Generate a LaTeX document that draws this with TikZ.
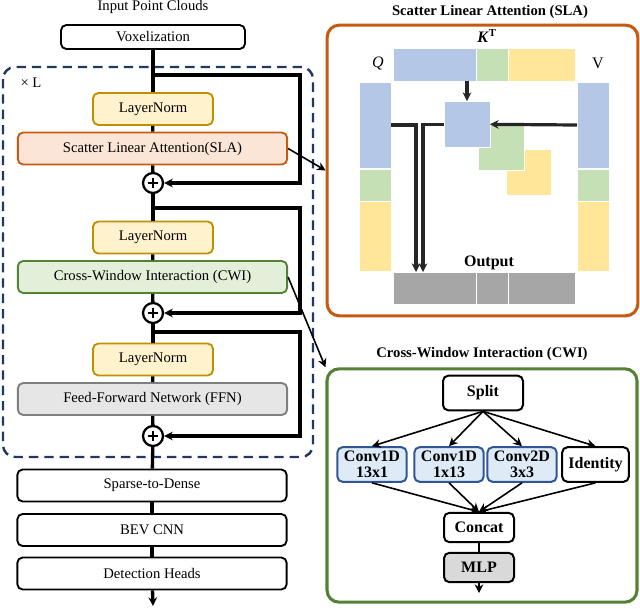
\documentclass[tikz,border=0pt]{standalone}
\usepackage{fontspec}
\setmainfont{Liberation Serif}
\usetikzlibrary{arrows.meta}

\definecolor{lnfill}{HTML}{FFF2CC}
\definecolor{lnedge}{HTML}{BF9000}
\definecolor{slafill}{HTML}{FBE5D6}
\definecolor{slaedge}{HTML}{C55A11}
\definecolor{cwifill}{HTML}{E2F0D9}
\definecolor{cwiedge}{HTML}{548235}
\definecolor{ffnfill}{HTML}{E7E6E6}
\definecolor{ffnedge}{HTML}{7F7F7F}
\definecolor{loopedge}{HTML}{203864}
\definecolor{tblue}{HTML}{B4C7E7}
\definecolor{tgreen}{HTML}{C5E0B4}
\definecolor{tyellow}{HTML}{FFE699}
\definecolor{tgray}{HTML}{A6A6A6}
\definecolor{convfill}{HTML}{DEEBF7}
\definecolor{convedge}{HTML}{2F5597}
\definecolor{mlpfill}{HTML}{D9D9D9}
\definecolor{darkline}{HTML}{262626}

\begin{document}
\begin{tikzpicture}[
    x=0.75pt, y=-0.75pt,
    font=\fontsize{11}{13}\selectfont,
    block/.style={draw, rounded corners=4pt, line width=1.4pt, minimum height=24pt, inner sep=1pt},
    lnorm/.style={block, draw=lnedge, fill=lnfill, minimum width=90pt},
    wide/.style={block, minimum width=202pt},
    adder/.style={circle, draw, line width=1.7pt, minimum size=15pt, inner sep=0pt,
        path picture={
            \draw[line width=1.7pt] ([yshift=-3.5pt]path picture bounding box.north) -- ([yshift=3.5pt]path picture bounding box.south);
            \draw[line width=1.7pt] ([xshift=3.5pt]path picture bounding box.west) -- ([xshift=-3.5pt]path picture bounding box.east);
        }},
    flow/.style={line width=2.5pt},
    panel/.style={draw, rounded corners=9pt, line width=2.3pt},
    tile/.style={draw=white, line width=0.6pt, inner sep=0pt, outer sep=0pt, anchor=north west},
    cwibox/.style={draw, rounded corners=4pt, line width=1.5pt, inner sep=1pt, minimum height=26pt,
        font=\fontsize{12}{12}\selectfont\bfseries, align=center},
    conv/.style={cwibox, draw=convedge, fill=convfill, minimum width=52pt},
    link/.style={line width=1.2pt},
    thickarrow/.style={darkline, line width=2.4pt},
    >={Stealth[length=6.5pt, width=6.5pt]}
]
\useasboundingbox (0,0) rectangle (640,608);

% Main column
\node (input) at (153,7) {Input Point Clouds};
\node[block, minimum width=138pt, minimum height=18pt] (vox) at (153,37) {Voxelization};
\node[lnorm] (ln1) at (153,109) {LayerNorm};
\node[wide, draw=slaedge, fill=slafill] (sla) at (152.5,148.5) {Scatter Linear Attention(SLA)};
\node[adder] (add1) at (153,183) {};
\node[lnorm] (ln2) at (153,237.5) {LayerNorm};
\node[wide, draw=cwiedge, fill=cwifill] (cwi) at (152.5,277) {Cross-Window Interaction (CWI)};
\node[adder] (add2) at (153,313) {};
\node[lnorm] (ln3) at (153,359.5) {LayerNorm};
\node[wide, draw=ffnedge, fill=ffnfill] (ffn) at (152.5,399) {Feed-Forward Network (FFN)};
\node[adder] (add3) at (153,436) {};
\node[wide] (s2d) at (152,485.5) {Sparse-to-Dense};
\node[wide] (bev) at (152,530) {BEV CNN};
\node[wide] (det) at (152,573.5) {Detection Heads};
\coordinate (out) at (153,606);

% Repeated block
\draw[loopedge, line width=1.8pt, dash pattern=on 7pt off 4.5pt, rounded corners=9pt] (3,67) rectangle (313,457);
\node (times) at (31,83) {× L};

% Connections
\foreach \a/\b in {vox/ln1, ln1/sla, sla/add1, add1/ln2, ln2/cwi, cwi/add2,
                   add2/ln3, ln3/ffn, ffn/add3, add3/s2d, s2d/bev, bev/det} {
    \draw[flow] (\a) -- (\b);
}
\draw[flow,->] (det) -- (out);

% Residual connections
\coordinate (br1) at (153,75);
\coordinate (br2) at (153,208);
\coordinate (br3) at (153,332);
\draw[flow,->] (br1) -- ++(147,0) |- (add1.east);
\draw[flow,->] (br2) -- ++(147,0) |- (add2.east);
\draw[flow,->] (br3) -- ++(147,0) |- (add3.east);

% Scatter Linear Attention panel
\node[font=\fontsize{11}{13}\selectfont\bfseries] (slatitle) at (490,12) {Scatter Linear Attention (SLA)};
\node[panel, draw=slaedge, minimum width=233pt, minimum height=218pt] (slapanel) at (482.5,170.5) {};
\draw[link,->] (sla.east) -- (slapanel.west);

% K^T row
\node[tile, fill=tblue, minimum width=62.25pt, minimum height=24.75pt] (kb) at (393,48) {};
\node[tile, fill=tgreen, minimum width=24pt, minimum height=24.75pt] (kg) at (476,48) {};
\node[tile, fill=tyellow, minimum width=50.25pt, minimum height=24.75pt] (ky) at (508,48) {};
% Q and V columns
\foreach \c/\x in {q/359, v/577} {
    \node[tile, fill=tblue, minimum width=24pt, minimum height=64.5pt] (\c b) at (\x,82) {};
    \node[tile, fill=tgreen, minimum width=24pt, minimum height=24pt] (\c g) at (\x,169) {};
    \node[tile, fill=tyellow, minimum width=24pt, minimum height=52.5pt] (\c y) at (\x,201) {};
}
% Stacked products
\node[tile, fill=tyellow, minimum width=34pt, minimum height=35pt] (sy) at (506,149) {};
\node[tile, fill=tgreen, minimum width=34.5pt, minimum height=36pt] (sg) at (478,122) {};
\node[tile, fill=tblue, minimum width=34.5pt, minimum height=35pt] (sb) at (444,101) {};
% Output row
\node[tile, fill=tgray, minimum width=62.25pt, minimum height=24pt] (ob) at (393,272) {};
\node[tile, fill=tgray, minimum width=24pt, minimum height=24pt] (og) at (476,272) {};
\node[tile, fill=tgray, minimum width=50.25pt, minimum height=24pt] (oy) at (508,272) {};

\node[font=\fontsize{12}{13}\selectfont\bfseries] (klabel) at (487,36) {\textit{K}\textsuperscript{T}};
\node[font=\fontsize{12}{13}\selectfont] (qlabel) at (378,63) {\textit{Q}};
\node[font=\fontsize{12}{13}\selectfont] (vlabel) at (598,63) {V};
\node[font=\fontsize{12}{13}\selectfont\bfseries] (outlabel) at (489,263) {Output};

\coordinate (qdrop) at (416,272);
\coordinate (sdrop) at (423,272);
\draw[thickarrow, ->] (sb.north |- kb.south) -- (sb.north);
\draw[thickarrow, ->] (vb.west) -- (sb.east);
\draw[thickarrow, ->] (qb.east) -| (qdrop);
\draw[thickarrow, ->] (sb.west) -| (sdrop);

% Cross-Window Interaction panel
\node[font=\fontsize{11}{13}\selectfont\bfseries] (cwititle) at (482,354) {Cross-Window Interaction (CWI)};
\node[panel, draw=cwiedge, minimum width=232.5pt, minimum height=175pt] (cwipanel) at (482,485.5) {};
\draw[link,->] (cwi.east) -- (cwipanel.north west);

\node[cwibox, minimum width=60pt] (split) at (483,393) {Split};
\node[conv] (c1) at (372,464.5) {Conv1D\\13x1};
\node[conv] (c2) at (449,464.5) {Conv1D\\1x13};
\node[conv] (c3) at (522,464.5) {Conv2D\\3x3};
\node[cwibox, minimum width=50pt] (ident) at (595.5,464.5) {Identity};
\node[cwibox, minimum width=52.5pt, minimum height=22pt] (concat) at (479,527.5) {Concat};
\node[cwibox, fill=mlpfill, minimum width=52.5pt, minimum height=22pt] (mlp) at (479,567.5) {MLP};
\coordinate (cwiout) at (479,593);

\foreach \b in {c1,c2,c3,ident} {
    \draw[link,->] (split.south) -- (\b.north);
    \draw[link,->] (\b.south) -- (concat.north);
}
\draw[link] (concat) -- (mlp);
\draw[link,->] (mlp) -- (cwiout);
\end{tikzpicture}
\end{document}
